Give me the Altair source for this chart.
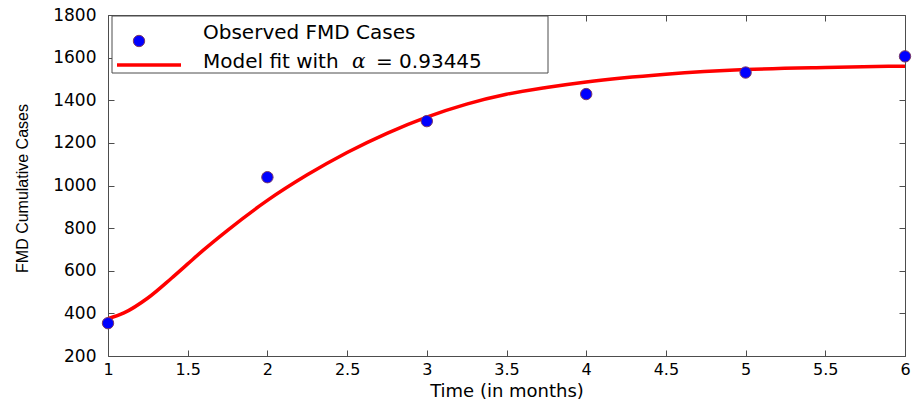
import altair as alt
import pandas as pd

# Observed data
obs_month = [1, 2, 3, 4, 5, 6]
obs_cases = [354, 1039, 1302, 1429, 1530, 1606]

# Model fit curve
fit_month = [1, 1.1, 1.25, 1.4, 1.5, 1.6, 1.75, 2, 2.25, 2.5, 2.75, 3, 3.25, 3.5, 3.75, 4, 4.5, 5, 5.5, 6]
fit_cases = [375, 402, 472, 566, 632, 698, 790, 930, 1050, 1155, 1245, 1321, 1382, 1428, 1460, 1486, 1522, 1544, 1554, 1560]

x_ticks = [1, 1.5, 2, 2.5, 3, 3.5, 4, 4.5, 5, 5.5, 6]
y_ticks = [200, 400, 600, 800, 1000, 1200, 1400, 1600, 1800]

FONT = "DejaVu Sans"
FRAME = "#4d4d4d"

obs_df = pd.DataFrame({"t": obs_month, "c": obs_cases})
fit_df = pd.DataFrame({"t": fit_month, "c": fit_cases})

xscale = alt.Scale(domain=[1, 6], nice=False, zero=False)
yscale = alt.Scale(domain=[200, 1800], nice=False, zero=False)

tick_common = dict(offset=-6, tickSize=6, domain=False, grid=False,
                   tickColor=FRAME, tickWidth=1, labelFlush=False, labelOverlap=False)

x_bottom = alt.Axis(orient="bottom", values=x_ticks, format="~g",
                    labelPadding=5, labelFont=FONT, labelFontSize=16, labelColor="black",
                    title="Time (in months)", titleFont=FONT, titleFontSize=18,
                    titleFontWeight="normal", titleColor="black",
                    titleY=46, titleBaseline="alphabetic", **tick_common)
y_left = alt.Axis(orient="left", values=y_ticks, format="d",
                  labelPadding=12, labelFont=FONT, labelFontSize=17, labelColor="black",
                  title="FMD Cumulative Cases", titleFont="Liberation Sans", titleFontSize=16,
                  titleFontWeight="normal", titleColor="black",
                  titleAngle=270, titleX=-84, titleY=173, titleBaseline="bottom",
                  titleAlign="center", **tick_common)
x_top = alt.Axis(orient="top", values=x_ticks, labels=False, title=None, **tick_common)
y_right = alt.Axis(orient="right", values=y_ticks, labels=False, title=None, **tick_common)

line = alt.Chart(fit_df).mark_line(color="#ff0000", strokeWidth=3.5, interpolate="monotone").encode(
    x=alt.X("t:Q", scale=xscale, axis=x_bottom),
    y=alt.Y("c:Q", scale=yscale, axis=y_left),
)

pts = alt.Chart(obs_df).mark_point(filled=True, fill="#0000ff", stroke="#7a3a6a",
                                   strokeWidth=1, size=130, opacity=1, shape="circle").encode(
    x=alt.X("t:Q", scale=xscale, axis=x_top),
    y=alt.Y("c:Q", scale=yscale, axis=y_right),
)

one = pd.DataFrame({"k": [0]})

leg_box = alt.Chart(one).mark_rect(fill="white", stroke=FRAME, strokeWidth=1).encode(
    x=alt.value(4), x2=alt.value(440), y=alt.value(1), y2=alt.value(58)
)
leg_pt = alt.Chart(one).mark_point(filled=True, fill="#0000ff", stroke="#7a3a6a",
                                   strokeWidth=1, size=130, opacity=1, shape="circle").encode(
    x=alt.value(31), y=alt.value(26)
)
leg_line = alt.Chart(one).mark_rule(color="#ff0000", strokeWidth=3.5).encode(
    x=alt.value(9), x2=alt.value(73), y=alt.value(50)
)
leg_t1 = alt.Chart(one).mark_text(align="left", baseline="middle", font=FONT, fontSize=20,
                                  color="black").encode(
    x=alt.value(95), y=alt.value(18), text=alt.value("Observed FMD Cases")
)
leg_t2 = alt.Chart(one).mark_text(align="left", baseline="middle", font=FONT, fontSize=20,
                                  color="black").encode(
    x=alt.value(95), y=alt.value(47), text=alt.value("Model fit with")
)
leg_t3 = alt.Chart(one).mark_text(align="left", baseline="middle", font="DejaVu Serif",
                                  fontStyle="italic", fontSize=20, color="black").encode(
    x=alt.value(244), y=alt.value(47), text=alt.value("α")
)
leg_t4 = alt.Chart(one).mark_text(align="left", baseline="middle", font=FONT, fontSize=20,
                                  color="black").encode(
    x=alt.value(268), y=alt.value(47), text=alt.value("= 0.93445")
)

chart = alt.layer(line, pts, leg_box, leg_pt, leg_line, leg_t1, leg_t2, leg_t3, leg_t4).resolve_axis(
    x="independent", y="independent"
).properties(
    width=797, height=341,
    autosize=alt.AutoSizeParams(type="none"),
    padding={"left": 108, "top": 15, "right": 12, "bottom": 45},
    background="white",
).configure_view(stroke=FRAME, strokeWidth=1)

chart.save("out.html", embed_options={"renderer": "svg", "actions": False})
